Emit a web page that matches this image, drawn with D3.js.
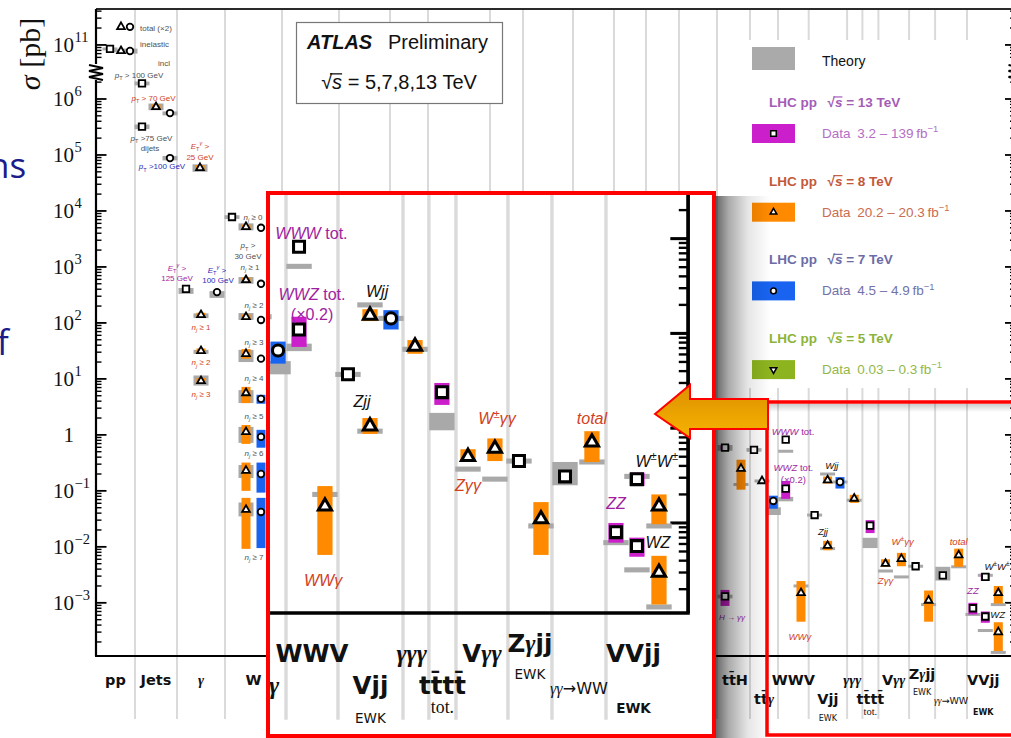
<!DOCTYPE html>
<html>
<head>
<meta charset="utf-8">
<script src="https://cdn.jsdelivr.net/npm/d3@7"></script>
<style>
body { margin: 0; background: #fff; }
svg { display: block; }
</style>
</head>
<body>
<svg id="chart" width="1011" height="738"></svg>
<script>
const SANS = 'Liberation Sans, Arial, sans-serif'
const SERIF = 'Liberation Serif, Times New Roman, serif'
const LAB = 'DejaVu Sans, sans-serif'

// category columns of the main plot and their widths (slot units)
const columns = ['pp','jets','gam','W','Z','tt','t','VV','gg','Vg','H','VH','ttW','ttZ','ttH','ttg','WWV','Vjj','ggg','tttt','Vgg','Zgjj','ggWW','VVjj']
const colSlots = [39,42,48,57,57,51,38,62,33,50,41,32,33,38,33,28,30.7,38.4,15.3,16,30.7,26,31.9,48.5]
const colLabels = ['pp','Jets','*γ*','W','Z','tt\u0304','t','VV','*γγ*','V*γ*','H','VH','tt\u0304W','tt\u0304Z','tt\u0304H','tt\u0304*γ*','WWV','Vjj','*γγγ*','tt\u0304tt\u0304','V*γγ*','Z*γ*jj','*γγ*→WW','VVjj']
const colSubLabels = { Vjj: 'EWK', tttt: 'tot.', Zgjj: 'EWK', VVjj: 'EWK' }

// measurements: [column, slot in column, sqrt(s) TeV, sigma pb, data low, data high, theory low, theory high]
const points = [
  ['pp', 25, 8, 2.1e11, null, null, null, null],
  ['pp', 34, 7, 2.1e11, null, null, null, null],
  ['pp', 14, 13, 8.5e10, null, null, 8.0e10, 9.0e10],
  ['pp', 25, 8, 7.8e10, null, null, 7.4e10, 8.4e10],
  ['pp', 34, 7, 7.8e10, null, null, 7.0e10, 8.6e10],
  ['jets', 7, 13, 1.9e6, null, null, 1.75e6, 2.05e6],
  ['jets', 21, 8, 7.2e5, 6.5e5, 8.0e5, 6.3e5, 8.3e5],
  ['jets', 35, 7, 5.6e5, null, null, 5.1e5, 6.0e5],
  ['jets', 7, 13, 3.2e5, null, null, 2.9e5, 3.5e5],
  ['jets', 35, 7, 8.8e4, null, null, 8.0e4, 9.6e4],
  ['gam', 23, 8, 5.9e4, 5.3e4, 6.6e4, 5.0e4, 6.8e4],
  ['gam', 9, 13, 405, null, null, 330, 420],
  ['gam', 40, 7, 355, null, null, 280, 370],
  ['gam', 24, 8, 139, 125, 152, 122, 148],
  ['gam', 24, 8, 31.6, 28.5, 35, 28, 33],
  ['gam', 24, 8, 9.2, 8.2, 10.4, 7.6, 11.5],
  ['W', 7, 13, 7.8e3, null, null, 7.2e3, 8.4e3],
  ['W', 21, 8, 5.2e3, 4.7e3, 5.7e3, 4.5e3, 6.0e3],
  ['W', 36, 7, 5.0e3, null, null, null, null],
  ['W', 21, 8, 585, 530, 650, 500, 660],
  ['W', 36, 7, 500, null, null, null, null],
  ['W', 21, 8, 128, 115, 142, 113, 150],
  ['W', 36, 7, 113, null, null, null, null],
  ['W', 21, 8, 28, 23, 34, 20, 33],
  ['W', 36, 7, 23, null, null, null, null],
  ['W', 21, 8, 5.6, 3.7, 7.2, 3.7, 6.3],
  ['W', 36, 7, 4.4, 3.6, 5.2, null, null],
  ['W', 21, 8, 1.13, 0.69, 1.5, 0.72, 1.39],
  ['W', 36, 7, 0.92, 0.59, 1.23, null, null],
  ['W', 21, 8, 0.23, 0.1, 0.32, 0.17, 0.29],
  ['W', 36, 7, 0.2, 0.093, 0.32, null, null],
  ['W', 21, 8, 0.046, 0.0092, 0.075, 0.035, 0.062],
  ['W', 36, 7, 0.042, 0.0095, 0.075, null, null],
  ['ttH', 8, 13, 0.59, 0.54, 0.65, 0.52, 0.66],
  ['ttH', 24, 8, 0.25, 0.105, 0.36, 0.13, 0.13],
  ['ttH', 8, 13, 0.0013, 0.00088, 0.0017, 0.0012, 0.0014],
  ['ttg', 4, 13, 0.54, null, null, 0.5, 0.58],
  ['ttg', 12, 8, 0.15, null, null, 0.15, 0.15],
  ['ttg', 23.3, 7, 0.066, 0.048, 0.082, 0.037, 0.051],
  ['WWV', 7.7, 13, 0.82, null, null, 0.51, 0.51],
  ['WWV', 7.7, 13, 0.11, 0.072, 0.15, 0.065, 0.078],
  ['WWV', 23, 8, 0.0015, 0.00046, 0.00245, 0.002, 0.002],
  ['Vjj', 5.9, 13, 0.037, null, null, 0.035, 0.039],
  ['Vjj', 18.9, 8, 0.155, 0.135, 0.18, 0.2, 0.2],
  ['Vjj', 18.9, 8, 0.0105, 0.0087, 0.0128, 0.0093, 0.0093],
  ['Vjj', 31.3, 7, 0.144, 0.11, 0.176, 0.144, 0.144],
  ['ggg', 7.1, 8, 0.073, 0.061, 0.085, 0.068, 0.068],
  ['tttt', 7.7, 13, 0.024, 0.0176, 0.03, 0.0095, 0.0145],
  ['Vgg', 7.1, 8, 0.005, 0.0044, 0.006, 0.0037, 0.0037],
  ['Vgg', 23, 8, 0.0061, 0.0045, 0.0078, 0.0029, 0.0029],
  ['Zgjj', 6.5, 13, 0.0045, null, null, 0.0045, 0.0045],
  ['Zgjj', 19.5, 8, 0.0011, 0.00046, 0.00166, 0.00093, 0.00093],
  ['ggWW', 7.7, 13, 0.0031, null, null, 0.0025, 0.0044],
  ['ggWW', 23.6, 8, 0.0071, 0.0044, 0.0093, 0.0044, 0.0044],
  ['VVjj', 5.9, 13, 0.0008, 0.00062, 0.001, 0.00062, 0.00062],
  ['VVjj', 18.3, 13, 0.0029, 0.00246, 0.0034, 0.0031, 0.0031],
  ['VVjj', 18.3, 13, 0.00057, 0.00044, 0.0007, 0.00032, 0.00032],
  ['VVjj', 31.3, 8, 0.0015, 0.00097, 0.002, 0.00093, 0.00093],
  ['VVjj', 31.3, 8, 0.0003, 0.000138, 0.00045, 0.00013, 0.00013]
].map(d => ({ col: d[0], slot: d[1], e: d[2], v: d[3], lo: d[4], hi: d[5], thLo: d[6], thHi: d[7] }))

// small annotations: [text, column, slot, sigma, tone]
const smallNotes = [
  ['total (×2)', 'pp', 44, 2.0e11, 'grey'],
  ['inelastic', 'pp', 44, 1.04e11, 'grey'],
  ['incl', 'jets', 29, 4.4e6, 'grey'],
  ['*p*_{T} > 100 GeV', 'jets', 4, 2.7e6, 'grey'],
  ['*p*_{T} > 70 GeV', 'jets', 18.5, 1.05e6, 'red'],
  ['*p*_{T} >75 GeV', 'jets', 16.5, 2.0e5, 'grey'],
  ['dijets', 'jets', 15, 1.33e5, 'grey'],
  ['*p*_{T} >100 GeV', 'jets', 27, 6.2e4, 'blue'],
  ['*E*_{T}^{*γ*} >', 'gam', 23, 1.45e5, 'red'],
  ['25 GeV', 'gam', 23, 9.1e4, 'red'],
  ['*E*_{T}^{*γ*} >', 'gam', 0, 955, 'purple'],
  ['125 GeV', 'gam', 0, 630, 'purple'],
  ['*E*_{T}^{*γ*} >', 'gam', 40, 880, 'blue'],
  ['100 GeV', 'gam', 41, 590, 'blue'],
  ['*n*_{*j*} ≥ 1', 'gam', 24, 85, 'red'],
  ['*n*_{*j*} ≥ 2', 'gam', 24, 19.5, 'red'],
  ['*n*_{*j*} ≥ 3', 'gam', 24, 5.4, 'red'],
  ['*n*_{*j*} ≥ 0', 'W', 28, 7.8e3, 'grey'],
  ['*p*_{T} >', 'W', 23, 2.4e3, 'grey'],
  ['30 GeV', 'W', 23, 1.58e3, 'grey'],
  ['*n*_{*j*} ≥ 1', 'W', 25, 1.0e3, 'grey'],
  ['*n*_{*j*} ≥ 2', 'W', 29, 209, 'grey'],
  ['*n*_{*j*} ≥ 3', 'W', 29, 46, 'grey'],
  ['*n*_{*j*} ≥ 4', 'W', 29, 10.5, 'grey'],
  ['*n*_{*j*} ≥ 5', 'W', 29, 2.2, 'grey'],
  ['*n*_{*j*} ≥ 6', 'W', 29, 0.48, 'grey'],
  ['*n*_{*j*} ≥ 7', 'W', 29, 0.0066, 'grey'],
  ['*H* → *γγ*', 'ttH', 15, 5.6e-4, 'purple']
]
const bigNotes = [
  ['*WWW* tot.', 'WWV', 15, 1.15, 'purple'],
  ['*WWZ* tot.', 'WWV', 15.4, 0.26, 'purple'],
  ['(×0.2)', 'WWV', 15.4, 0.16, 'purple'],
  ['*Wjj*', 'Vjj', 23.1, 0.28, 'black'],
  ['*Zjj*', 'Vjj', 14.2, 0.019, 'black'],
  ['*WWγ*', 'WWV', 21.9, 2.5e-4, 'red'],
  ['*Zγγ*', 'Vgg', 7.1, 0.0025, 'red'],
  ['*W*^{±}*γγ*', 'Vgg', 24.2, 0.0126, 'red'],
  ['*total*', 'ggWW', 23.6, 0.0126, 'red'],
  ['*W*^{±}*W*^{±}', 'VVjj', 30, 0.0045, 'black'],
  ['*ZZ*', 'VVjj', 5.9, 0.00162, 'purple'],
  ['*WZ*', 'VVjj', 30.7, 6.2e-4, 'black']
]

// legend
const legendEnergies = [13, 8, 7, 5]
const legendLumi = ['3.2 – 139', '20.2 – 20.3', '4.5 – 4.9', '0.03 – 0.3']

const energyColor = { 13: '#cc1fcc', 8: '#ff8a00', 7: '#1863f0', 5: '#8db41f' }
const headerColor = { 13: '#a45cb6', 8: '#c2583b', 7: '#6c6ca6', 5: '#8cb43a' }
const dataColor = { 13: '#b46ec6', 8: '#c96c52', 7: '#7272aa', 5: '#93b849' }
const toneColor = { grey: '#505050', red: '#d2401e', purple: '#a01ea0', blue: '#2b2bb8', black: '#111' }

// ---- scales
const colStart = []
colSlots.reduce((a, w, i) => { colStart[i] = a; return a + w }, 0)
const x = d3.scaleLinear().domain([0, d3.sum(colSlots)]).range([96, 1015.5])
const px = (col, slot) => x(colStart[columns.indexOf(col)] + slot)

const yLo = d3.scaleLog().domain([10 ** -3.95, 10 ** 6.5]).range([656, 71])
const yHi = d3.scaleLog().domain([10 ** 10.5, 10 ** 11.64]).range([73, 9])
const y = v => v >= 1e9 ? yHi(v) : yLo(v)

const xL = x.range()[0], xR = x.range()[1], yB = yLo.range()[0], yT = yHi.range()[1]

const ticks = []
for (let e = -4; e <= 6; e++) for (let m = 1; m <= 9; m++) {
  const v = m * Math.pow(10, e)
  if (v >= 10 ** -3.95 && v <= 10 ** 6.4) ticks.push({ v, major: m === 1 })
}
for (let e = 10; e <= 11; e++) for (let m = 1; m <= 9; m++) {
  const v = m * Math.pow(10, e)
  if (v >= 10 ** 10.75 && v <= 10 ** 11.62) ticks.push({ v, major: m === 1 })
}

function rich(text, str, size, italFamily) {
  const parts = str.split(/(\*[^*]+\*|[_^]\{[^}]*\})/).filter(s => s)
  let shift = 0
  parts.forEach(s => {
    let body = s, dy = 0, small = false, ital = false
    if (s[0] === '_' || s[0] === '^') {
      body = s.slice(2, -1); small = true
      dy = (s[0] === '_' ? 0.28 : -0.42) * size
    }
    if (body.length > 2 && body[0] === '*' && body[body.length - 1] === '*') { body = body.slice(1, -1); ital = true }
    const t = text.append('tspan').text(body).attr('dy', dy - shift)
    if (small) t.attr('font-size', size * 0.7)
    if (ital) { t.attr('font-style', 'italic'); if (italFamily) t.attr('font-family', italFamily) }
    shift = dy
  })
  return text
}

function overbar(text, color, w) {
  const node = text.node()
  const i = node.textContent.indexOf('√')
  if (i < 0) return
  const r = node.getExtentOfChar(i), s = node.getExtentOfChar(i + 1)
  const by = r.y + r.height * 0.13
  d3.select(node.parentNode).append('line')
    .attr('x1', r.x + r.width * 0.8).attr('x2', s.x + s.width)
    .attr('y1', by).attr('y2', by)
    .attr('stroke', color).attr('stroke-width', w)
}

const symType = { 13: d3.symbolSquare, 8: d3.symbolTriangle, 7: d3.symbolCircle, 5: d3.symbolTriangle }
const symArea = { 13: 42, 8: 26, 7: 34, 5: 26 }
function marker(g, e, cx, cy, s) {
  g.append('path')
    .attr('d', d3.symbol(symType[e], symArea[e] * s * s)())
    .attr('transform', 'translate(' + cx + ',' + cy + ')' + (e === 5 ? ' rotate(180)' : ''))
    .attr('fill', '#fff').attr('stroke', '#000').attr('stroke-width', 1.8 * s)
}

function drawPlot(g) {
  // column separators
  g.append('g').selectAll('line').data(colStart.slice(1)).join('line')
    .attr('x1', d => x(d)).attr('x2', d => x(d))
    .attr('y1', yT).attr('y2', 719)
    .attr('stroke', '#dadada').attr('stroke-width', 2)

  // frame
  g.append('line').attr('x1', xL).attr('x2', xR).attr('y1', yT).attr('y2', yT)
    .attr('stroke', '#2a2a2a').attr('stroke-width', 2)
  g.append('line').attr('x1', xL - 1).attr('x2', xR + 1).attr('y1', yB).attr('y2', yB)
    .attr('stroke', '#000').attr('stroke-width', 2.2)
  ;[xL, xR].forEach(ax => {
    g.append('line').attr('x1', ax).attr('x2', ax).attr('y1', yT).attr('y2', 64)
      .attr('stroke', '#000').attr('stroke-width', 2.2)
    g.append('line').attr('x1', ax).attr('x2', ax).attr('y1', 80).attr('y2', yB)
      .attr('stroke', '#000').attr('stroke-width', 2.2)
    const side = ax === xL ? 1 : -1
    g.append('g').selectAll('line').data(ticks).join('line')
      .attr('x1', ax).attr('x2', d => ax + side * (d.major ? 10.5 : 5.5))
      .attr('y1', d => y(d.v)).attr('y2', d => y(d.v))
      .attr('stroke', '#000').attr('stroke-width', d => d.major ? 1.8 : 1.4)
    const zz = [[-7, 65], [7, 68], [-7, 71], [7, 74], [-7, 77], [7, 80]]
    g.append('polyline').attr('points', zz.map(p => (ax + p[0]) + ',' + p[1]).join(' '))
      .attr('fill', 'none').attr('stroke', '#000').attr('stroke-width', 1.8)
  })

  // tick labels
  const majors = [-3, -2, -1, 0, 1, 2, 3, 4, 5, 6, 11]
  const tl = g.append('g').attr('font-family', SERIF).attr('fill', '#111')
  majors.forEach(e => {
    const ty = y(Math.pow(10, e))
    tl.append('text').attr('x', 74).attr('y', ty + 7).attr('text-anchor', 'end')
      .attr('font-size', 21).text(e === 0 ? '1' : '10')
    if (e !== 0) tl.append('text').attr('x', 74.5).attr('y', ty - 2.5)
      .attr('font-size', 14.5).text(e < 0 ? '−' + (-e) : e)
  })

  // theory bands
  g.append('g').selectAll('rect').data(points.filter(d => d.thLo !== null)).join('rect')
    .attr('x', d => px(d.col, d.slot) - 7.5).attr('width', 15)
    .attr('y', d => Math.min(y(d.thHi), (y(d.thHi) + y(d.thLo)) / 2 - 1.5))
    .attr('height', d => Math.max(3, y(d.thLo) - y(d.thHi)))
    .attr('fill', '#a9a9a9')

  // measurement bands
  g.append('g').selectAll('rect').data(points.filter(d => d.lo !== null)).join('rect')
    .attr('x', d => px(d.col, d.slot) - 4.5).attr('width', 9)
    .attr('y', d => y(d.hi)).attr('height', d => y(d.lo) - y(d.hi))
    .attr('fill', d => energyColor[d.e])

  // markers
  const mg = g.append('g')
  points.forEach(d => marker(mg, d.e, px(d.col, d.slot), y(d.v), 1))

  // annotations
  const notes = (list, size) => list.forEach(n => {
    const t = g.append('text')
      .attr('x', px(n[1], n[2])).attr('y', y(n[3]) + size * 0.35)
      .attr('text-anchor', n[1] === 'pp' ? 'start' : 'middle')
      .attr('font-family', SANS).attr('font-size', size).attr('fill', toneColor[n[4]])
    rich(t, n[0], size)
  })
  notes(smallNotes, 8)
  notes(bigNotes, 9.5)

  // category labels
  const row = { ttg: 704, Vjj: 704, tttt: 704, ggWW: 704, Zgjj: 679 }
  const shiftX = { ggg: -2.5, VVjj: -8, ttH: 1.5 }
  columns.forEach((c, i) => {
    const cx = x(colStart[i] + colSlots[i] / 2) + (shiftX[c] || 0)
    const small = c === 'ggWW'
    const t = g.append('text').attr('x', cx).attr('y', row[c] || 685)
      .attr('text-anchor', 'middle').attr('font-family', LAB)
      .attr('font-weight', small ? 'normal' : 'bold')
      .attr('font-size', small ? 9.5 : 14.5).attr('fill', '#111')
    rich(t, colLabels[i], small ? 9.5 : 14.5, SERIF)
    if (colSubLabels[c]) {
      const sub = { Vjj: 721, tttt: 715, Zgjj: 695, VVjj: 715 }
      g.append('text').attr('x', cx).attr('y', sub[c]).attr('text-anchor', 'middle')
        .attr('font-family', c === 'tttt' ? SERIF : LAB)
        .attr('font-weight', c === 'VVjj' ? 'bold' : 'normal')
        .attr('font-size', c === 'tttt' ? 10.5 : 8).attr('fill', '#111')
        .text(colSubLabels[c])
    }
  })
}

// ---- page
const svg = d3.select('#chart')
const defs = svg.append('defs')

const shade = defs.append('linearGradient').attr('id', 'shade')
shade.append('stop').attr('offset', 0).attr('stop-color', '#000').attr('stop-opacity', 0.62)
shade.append('stop').attr('offset', 0.25).attr('stop-color', '#000').attr('stop-opacity', 0.33)
shade.append('stop').attr('offset', 0.6).attr('stop-color', '#000').attr('stop-opacity', 0.1)
shade.append('stop').attr('offset', 1).attr('stop-color', '#000').attr('stop-opacity', 0)
const topShade = defs.append('linearGradient').attr('id', 'topShade').attr('x2', 0).attr('y2', 1)
topShade.append('stop').attr('offset', 0).attr('stop-color', '#000').attr('stop-opacity', 0.2)
topShade.append('stop').attr('offset', 1).attr('stop-color', '#000').attr('stop-opacity', 0)
const arrowFill = defs.append('linearGradient').attr('id', 'arrowFill').attr('x2', 0).attr('y2', 1)
arrowFill.append('stop').attr('offset', 0).attr('stop-color', '#de9000')
arrowFill.append('stop').attr('offset', 1).attr('stop-color', '#f6b300')
defs.append('clipPath').attr('id', 'insetClip').append('rect')
  .attr('x', 270).attr('y', 195).attr('width', 442).attr('height', 539)

// slide fragments on the left
svg.append('text').attr('x', -12).attr('y', 178).attr('font-family', 'Open Sans, sans-serif')
  .attr('font-size', 35).attr('fill', '#1c1c8a').text('ns')
svg.append('text').attr('x', -3).attr('y', 355).attr('font-family', 'Open Sans, sans-serif')
  .attr('font-size', 35).attr('fill', '#1c1c8a').text('f')

// y label
rich(svg.append('text').attr('transform', 'translate(40,54) rotate(-90)')
  .attr('text-anchor', 'middle').attr('font-family', SERIF).attr('font-size', 30).attr('fill', '#111'),
  '*σ* [pb]', 30)

drawPlot(svg.append('g'))

// ATLAS box
const ab = svg.append('g')
ab.append('rect').attr('x', 296.5).attr('y', 22.5).attr('width', 206).attr('height', 81)
  .attr('fill', '#fff').attr('stroke', '#777').attr('stroke-width', 1.2)
ab.append('text').attr('x', 307).attr('y', 49).attr('font-family', SANS).attr('font-size', 20)
  .attr('font-weight', 'bold').attr('font-style', 'italic').attr('fill', '#111').text('ATLAS')
ab.append('text').attr('x', 388).attr('y', 49).attr('font-family', SANS).attr('font-size', 20)
  .attr('fill', '#111').text('Preliminary')
const rs = ab.append('text').attr('x', 399).attr('y', 89).attr('text-anchor', 'middle')
  .attr('font-family', SANS).attr('font-size', 20).attr('fill', '#111')
rich(rs, '√*s* = 5,7,8,13 TeV', 20)
overbar(rs, '#111', 1.3)

// legend
const lg = svg.append('g').attr('font-family', SANS)
lg.append('rect').attr('x', 740).attr('y', 40).attr('width', 262).attr('height', 348).attr('fill', '#fff')
lg.append('rect').attr('x', 752).attr('y', 47).attr('width', 43).attr('height', 23).attr('fill', '#aaa')
lg.append('text').attr('x', 822).attr('y', 66).attr('font-size', 14).attr('fill', '#111').text('Theory')
legendEnergies.forEach((e, i) => {
  const top = 102 + i * 78.7
  const h = lg.append('text').attr('x', 769).attr('y', top + 5).attr('font-size', 13.5)
    .attr('font-weight', 'bold').attr('fill', headerColor[e])
  rich(h, 'LHC pp\u2002 √*s* = ' + e + ' TeV', 13.5)
  overbar(h, headerColor[e], 1.2)
  lg.append('rect').attr('x', 752).attr('y', top + 22).attr('width', 43).attr('height', 19)
    .attr('fill', energyColor[e])
  marker(lg, e, 773.5, top + 31.5, 0.85)
  rich(lg.append('text').attr('x', 822).attr('y', top + 36).attr('font-size', 13.5)
    .attr('fill', dataColor[e]), 'Data\u2002' + legendLumi[e === 13 ? 0 : e === 8 ? 1 : e === 7 ? 2 : 3] + '\u2009fb^{−1}', 13.5)
})

// small frame around the zoomed region
svg.append('rect').attr('x', 769).attr('y', 404).attr('width', 242).attr('height', 8).attr('fill', 'url(#topShade)')
svg.append('rect').attr('x', 767).attr('y', 402).attr('width', 260).attr('height', 333)
  .attr('fill', 'none').attr('stroke', '#ff0000').attr('stroke-width', 3.5)

// shadow of the magnified box
svg.append('rect').attr('x', 715).attr('y', 196).attr('width', 55).attr('height', 545).attr('fill', 'url(#shade)')

// magnified box
const k = 1.693
const fx = px('WWV', 0), fy = yB
svg.append('rect').attr('x', 268).attr('y', 193).attr('width', 446).attr('height', 543).attr('fill', '#fff')
const inset = svg.append('g').attr('clip-path', 'url(#insetClip)')
  .append('g').attr('transform', 'translate(' + (286 - fx * k) + ',' + (613 - fy * k) + ') scale(' + k + ')')
drawPlot(inset)
svg.append('rect').attr('x', 268).attr('y', 193).attr('width', 446).attr('height', 543)
  .attr('fill', 'none').attr('stroke', '#ff0000').attr('stroke-width', 4)

// arrow
svg.append('path')
  .attr('d', 'M655,414 L690,385 L690,399 L768,399 L768,429 L690,429 L690,438 Z')
  .attr('fill', 'url(#arrowFill)').attr('stroke', '#ff0000').attr('stroke-width', 2)
  .attr('stroke-linejoin', 'miter')
</script>
</body>
</html>
